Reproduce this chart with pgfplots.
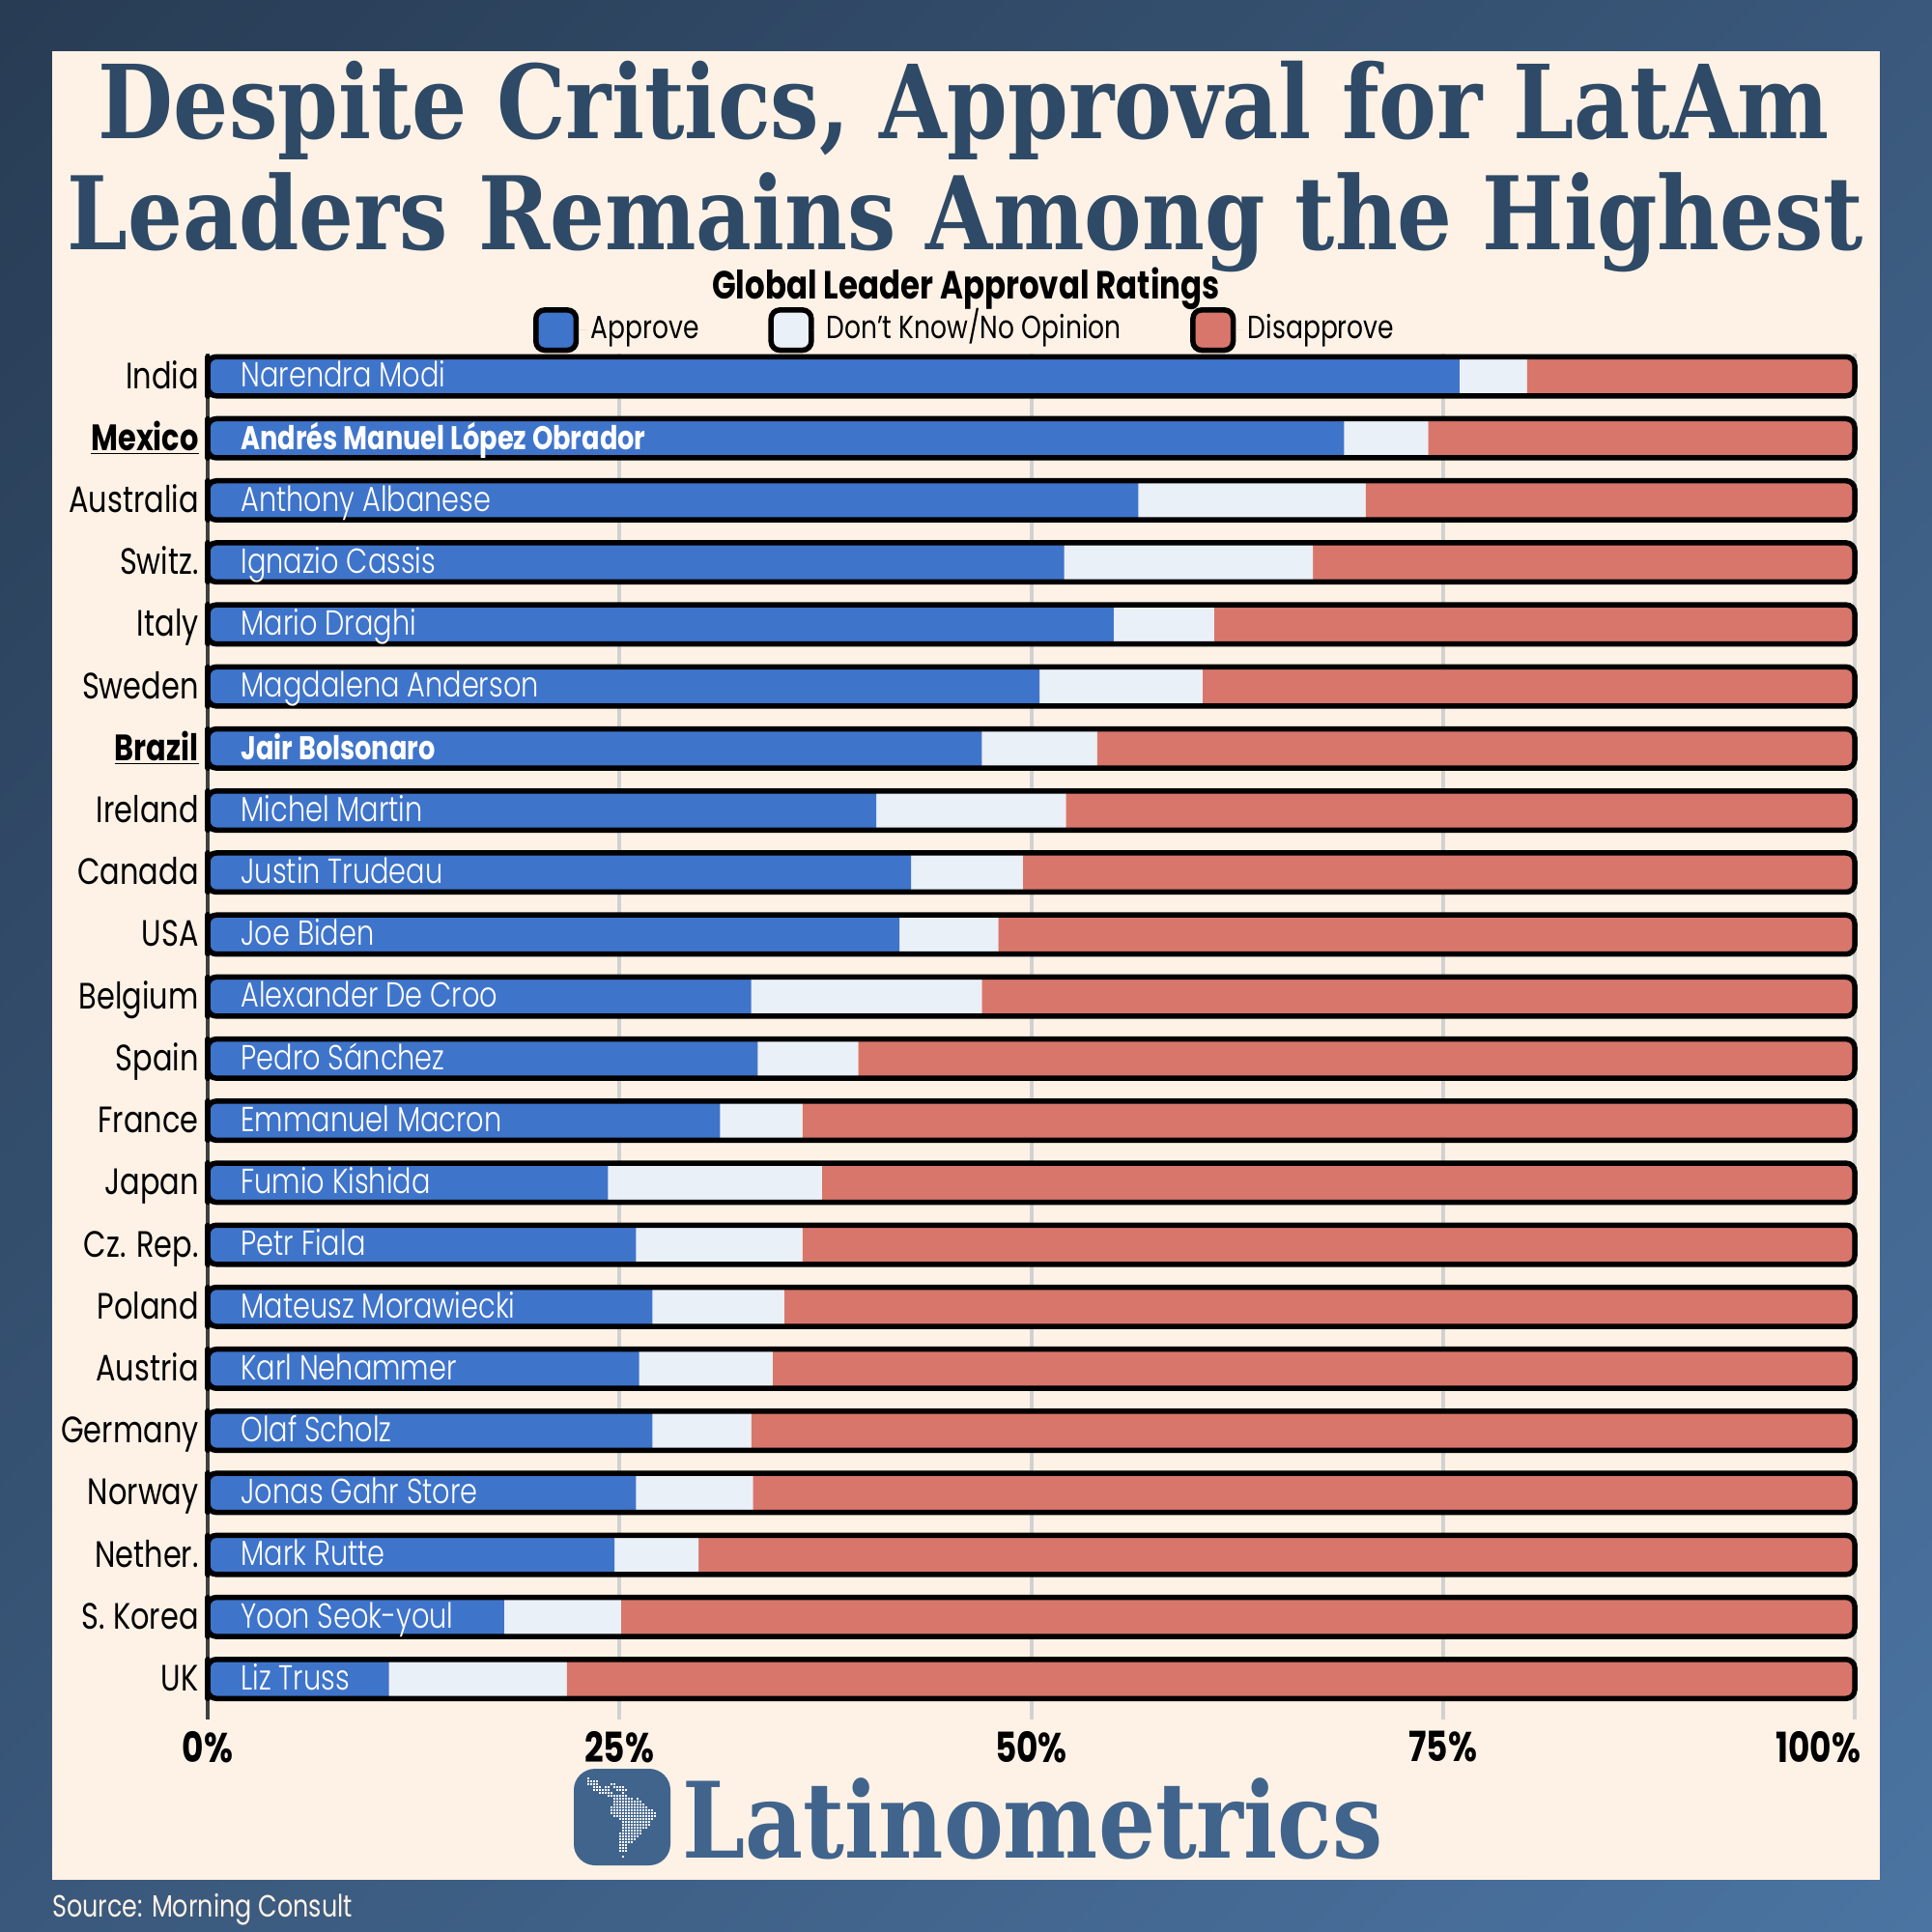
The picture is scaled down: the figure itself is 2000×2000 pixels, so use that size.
\documentclass[border=0pt]{standalone}
\usepackage{graphicx}
\usepackage{fontspec}
\usepackage{pgfplots}
\usepackage{pgfplotstable}
\pgfplotsset{compat=1.18}
\setmainfont{Poppins}[FakeStretch=0.8]
\newfontfamily\namefont{Poppins Light}[FakeStretch=0.8]
\newfontfamily\titlefont{DejaVu Serif}[FakeStretch=0.85]
\definecolor{cream}{HTML}{FEF2E6}
\definecolor{approve}{HTML}{3F74CB}
\definecolor{dontknow}{HTML}{EAF0F7}
\definecolor{disapprove}{HTML}{D9766B}
\definecolor{titleblue}{HTML}{2F4A66}
\definecolor{logoblue}{HTML}{41648C}
\definecolor{bgdark}{HTML}{283C54}
\definecolor{bglight}{HTML}{4B74A2}
\pgfdeclareverticalshading{bgdiag}{100bp}{color(0bp)=(bglight); color(14.6bp)=(bglight); color(85.4bp)=(bgdark); color(100bp)=(bgdark)}
\newcommand{\boldname}[1]{{\fontsize{17}{18}\rmfamily\bfseries #1}}

\pgfplotstableread{
idx approve dk dis tot corner
0 76 4.1 19.9 100 0.001
1 69 5.1 25.9 100 0.001
2 56.5 13.8 29.7 100 0.001
3 52 15.1 32.9 100 0.001
4 55 6.1 38.9 100 0.001
5 50.5 9.9 39.6 100 0.001
6 47 7 46 100 0.001
7 40.6 11.5 47.9 100 0.001
8 42.7 6.8 50.5 100 0.001
9 42 6 52 100 0.001
10 33 14 53 100 0.001
11 33.4 6.1 60.5 100 0.001
12 31.1 5 63.9 100 0.001
13 24.3 13 62.7 100 0.001
14 26 10.1 63.9 100 0.001
15 27 8 65 100 0.001
16 26.2 8.1 65.7 100 0.001
17 27 6 67 100 0.001
18 26 7.1 66.9 100 0.001
19 24.7 5.1 70.2 100 0.001
20 18 7.1 74.9 100 0.001
21 11 10.8 78.2 100 0.001
}\leaders

\begin{document}
\begin{tikzpicture}[x=0.5pt,y=-0.5pt]
\useasboundingbox (0,0) rectangle (2000,2000);
\fill[shading=bgdiag,shading angle=45] (0,0) rectangle (2000,2000);
\fill[cream] (53.5,53.5) rectangle (1946,1946);
\coordinate (axisorigin) at (215,1780);

% title and logo
\node[anchor=base,inner sep=0pt,text=titleblue] at (998,144) {\resizebox{896pt}{!}{\titlefont\bfseries Despite Critics, Approval for LatAm}};
\node[anchor=base,inner sep=0pt,text=titleblue] at (999.5,259) {\resizebox{929.5pt}{!}{\titlefont\bfseries Leaders Remains Among the Highest}};
\node[anchor=center,inner sep=0pt,font=\fontsize{20.3}{24}\selectfont\bfseries] at (1000,299) {Global Leader Approval Ratings};
\fill[logoblue,rounded corners=11pt] (594,1831) rectangle (694,1931);
\foreach \r/\a/\b in {0/0/0,1/0/3,2/0/3,2/8/9,3/2/4,3/6/7,3/9/12,4/2/7,4/10/13,5/4/8,5/12/12,6/7/13,7/9/15,7/17/17,8/9/18,9/9/19,10/8/20,11/8/22,12/8/23,13/9/23,14/11/22,15/12/21,16/12/21,17/12/20,18/12/18,19/11/18,20/11/17,21/11/16,22/11/15,23/11/13,24/11/13,25/11/13,27/12/12}
  \foreach \i in {\a,...,\b}
    \fill[white] ({609+\i*3-1},{1841+\r*3-1}) rectangle ++(2,2);
\node[anchor=base west,inner sep=0pt,text=logoblue] at (706,1923) {\resizebox{362.5pt}{!}{\titlefont\bfseries Latinometrics}};
\node[anchor=base west,inner sep=0pt,text=cream,font=\fontsize{15.9}{18}\selectfont] at (54,1984) {Source: Morning Consult};

\begin{axis}[
  at={(axisorigin)}, anchor=south west,
  scale only axis, width=852.5pt, height=707pt,
  xbar stacked, bar width=18.5pt,
  xmin=0, xmax=100,
  ymin=-0.366, ymax=21.654, y dir=reverse,
  axis line style={draw=none}, major tick length=0pt,
  xmajorgrids, major grid style={line width=2pt,draw=black!18},
  xtick={0,25,50,75,100},
  xticklabels={0\%,25\%,50\%,75\%,\makebox[0pt][r]{100\%\hspace{-3pt}}},
  extra x ticks={0}, extra x tick labels={},
  extra x tick style={major grid style={line width=2pt,draw=black!75}},
  xticklabel style={font=\fontsize{21.5}{24}\selectfont\bfseries,inner sep=0pt,yshift=-6pt},
  ytick={0,...,21},
  yticklabels={India,\underline{\bfseries Mexico},Australia,Switz.,Italy,Sweden,\underline{\bfseries Brazil},Ireland,Canada,USA,Belgium,Spain,France,Japan,Cz. Rep.,Poland,Austria,Germany,Norway,Nether.,S. Korea,UK},
  yticklabel style={font=\fontsize{19}{22}\selectfont,anchor=east,inner sep=0pt,xshift=-4.5pt,text height=15.5pt,text depth=3pt},
  legend columns=3,
  legend cell align=left,
  legend style={draw=none,fill=none,at={(0.4602,1.0172)},anchor=center,inner sep=0pt,
    font=\fontsize{16.6}{18}\selectfont,
    nodes={text height=12pt,text depth=3.5pt},
    /tikz/every even column/.append style={column sep=33.8pt}},
  legend image code/.code={\draw[#1,draw=black,line width=2.75pt,rounded corners=4.5pt] (0pt,-10.4pt) rectangle (20.8pt,10.4pt);\path (21pt,0pt) -- (26.5pt,0pt);},
]
\addplot[fill=approve,draw=none] table[x=approve,y=idx] {\leaders};
\addplot[fill=dontknow,draw=none] table[x=dk,y=idx] {\leaders};
\addplot[fill=disapprove,draw=none] table[x=dis,y=idx] {\leaders};
\legend{Approve,Don't Know/No Opinion,Disapprove}
\end{axis}

\begin{axis}[
  at={(axisorigin)}, anchor=south west,
  scale only axis, width=852.5pt, height=707pt,
  xmin=0, xmax=100, clip=false,
  ymin=-0.366, ymax=21.654, y dir=reverse,
  hide axis,
]
% outline of each bar, rounded at the right end
\addplot[xbar,bar width=20.25pt,draw=black,fill=none,line width=2.75pt,rounded corners=4.5pt] table[x=tot,y=idx] {\leaders};
% nearly square at the left end
\addplot[xbar,bar width=20.25pt,draw=black,fill=none,line width=2.75pt,line join=round] table[x=corner,y=idx] {\leaders};
% leaders' names
\addplot[only marks,mark=none,point meta=explicit symbolic,
  nodes near coords,
  every node near coord/.style={anchor=west,inner sep=0pt,text=white,text height=14pt,text depth=2.7pt,font=\fontsize{18}{20}\namefont}]
coordinates {
(2,0)[Narendra Modi] (2,1)[{\boldname{Andrés Manuel López Obrador}}] (2,2)[Anthony Albanese]
(2,3)[Ignazio Cassis] (2,4)[Mario Draghi] (2,5)[Magdalena Anderson]
(2,6)[{\boldname{Jair Bolsonaro}}] (2,7)[Michel Martin] (2,8)[Justin Trudeau]
(2,9)[Joe Biden] (2,10)[Alexander De Croo] (2,11)[Pedro Sánchez]
(2,12)[Emmanuel Macron] (2,13)[Fumio Kishida] (2,14)[Petr Fiala]
(2,15)[Mateusz Morawiecki] (2,16)[Karl Nehammer] (2,17)[Olaf Scholz]
(2,18)[Jonas Gahr Store] (2,19)[Mark Rutte] (2,20)[Yoon Seok-youl] (2,21)[Liz Truss]
};
\end{axis}
\end{tikzpicture}
\end{document}
